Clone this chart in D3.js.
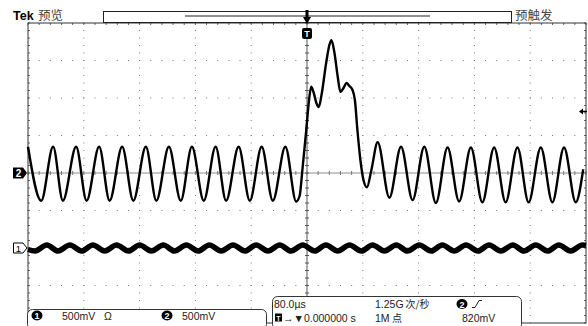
<!DOCTYPE html>
<html>
<head>
<meta charset="utf-8">
<script src="https://cdn.jsdelivr.net/npm/d3@7"></script>
<style>
  body { margin: 0; background: #fff; }
  svg { display: block; }
  text { font-family: "Liberation Sans", Arial, sans-serif; fill: #222; }
  .cjk { font-family: "Noto Sans CJK SC", sans-serif; }
</style>
</head>
<body>
<svg id="scope" width="588" height="326"></svg>
<script>
// time in µs relative to trigger, volts
const timeDiv = 80;      // µs per division
const voltsDiv = 0.5;    // V per division (both channels)

// channel 2: sine burst with a pulse at the trigger
const ch2Time = [-400, -381, -364, -350, -331, -316, -298, -283, -265, -249, -231, -216,
  -198, -181, -165, -148, -131, -116, -98, -82, -65, -49, -31, -15.5,
  -10.7, -6.4, -1.1, 2.9, 6.0, 9.3, 13.6, 16.9, 20.8, 27.5, 32.2, 35.1, 39.4, 44.1,
  47.9, 52.2, 56.5, 60.8, 65.1, 68.7, 72.3, 76.6, 80.9, 85.9, 92.3, 101.3,
  118.1, 134.8, 151.4, 168.2, 184.8, 201.5, 218.1, 235.0, 251.4, 268.3, 284.8,
  301.7, 317.7, 335.2, 351.8, 368.5, 385.3, 396];
const ch2Volt = [0.35, -0.37, 0.35, -0.37, 0.35, -0.37, 0.35, -0.37, 0.35, -0.37, 0.35, -0.37,
  0.35, -0.37, 0.35, -0.37, 0.35, -0.37, 0.35, -0.37, 0.35, -0.37, 0.35, -0.38,
  -0.31, 0.06, 0.57, 0.97, 1.15, 1.08, 0.93, 0.88, 1.04, 1.47, 1.71, 1.77, 1.60, 1.28,
  1.08, 1.13, 1.20, 1.16, 1.11, 0.97, 0.57, 0.17, -0.09, -0.19, 0.04, 0.41,
  -0.33, 0.35, -0.36, 0.35, -0.40, 0.34, -0.38, 0.34, -0.39, 0.34, -0.39,
  0.34, -0.39, 0.34, -0.39, 0.34, -0.39, 0.05];

// channel 1: small ripple
const ch1Time = [-400, -390, -373, -357, -340, -323, -307, -290, -273, -256, -240, -223,
  -206, -190, -173, -156, -140, -123, -106, -89, -73, -56, -39, -23, -6, 11, 27, 44,
  61, 78, 94, 111, 128, 144, 161, 178, 194, 211, 228, 245, 261, 278, 295, 311, 328,
  345, 361, 378, 395, 400];
const ch1Volt = [-0.02, -0.04, 0.04, -0.04, 0.04, -0.04, 0.04, -0.04, 0.04, -0.04, 0.04, -0.04,
  0.04, -0.04, 0.04, -0.04, 0.04, -0.04, 0.04, -0.04, 0.04, -0.04, 0.04, -0.04, 0.04, -0.04, 0.04, -0.04,
  0.04, -0.04, 0.04, -0.04, 0.04, -0.04, 0.04, -0.04, 0.04, -0.04, 0.04, -0.04, 0.04, -0.04, 0.04, -0.04, 0.04,
  -0.04, 0.04, -0.04, 0.04, 0.035];

const ch1Offset = -2;    // divisions
const ch2Offset = 0;
const trigLevel = 0.82;  // V on channel 2

const svg = d3.select("#scope");
const gLeft = 28, gRight = 586, gTop = 23, gBottom = 323;

const x = d3.scaleLinear().domain([-5 * timeDiv, 5 * timeDiv]).range([gLeft, gRight]);
const y = d3.scaleLinear().domain([-4, 4]).range([gBottom, gTop]);

// graticule
const grid = svg.append("g");
const xMinor = d3.range(-5, 5.01, 0.2);
const yMinor = d3.range(-4, 4.01, 0.2);
const majorX = d3.range(-4, 5).filter(d => d !== 0);
const majorY = d3.range(-3, 4).filter(d => d !== 0);

majorX.forEach(k => {
  grid.selectAll(null).data(yMinor).join("rect")
    .attr("x", x(k * timeDiv) - 0.5).attr("y", d => y(d) - 0.5)
    .attr("width", 1).attr("height", 1).attr("fill", "#7a7a7a");
});
majorY.forEach(k => {
  grid.selectAll(null).data(xMinor).join("rect")
    .attr("x", d => x(d * timeDiv) - 0.5).attr("y", y(k) - 0.5)
    .attr("width", 1).attr("height", 1).attr("fill", "#7a7a7a");
});

// center cross with ticks
grid.append("line").attr("x1", gLeft).attr("x2", gRight).attr("y1", y(0)).attr("y2", y(0))
  .attr("stroke", "#8c8c8c").attr("stroke-width", 1);
grid.append("line").attr("x1", x(0)).attr("x2", x(0)).attr("y1", gTop).attr("y2", gBottom)
  .attr("stroke", "#555").attr("stroke-width", 1);
grid.selectAll(null).data(xMinor).join("line")
  .attr("x1", d => x(d * timeDiv)).attr("x2", d => x(d * timeDiv))
  .attr("y1", y(0) - 2).attr("y2", y(0) + 2).attr("stroke", "#777");
grid.selectAll(null).data(yMinor).join("line")
  .attr("x1", x(0) - 2).attr("x2", x(0) + 2)
  .attr("y1", d => y(d)).attr("y2", d => y(d)).attr("stroke", "#555");

// border ticks
grid.selectAll(null).data(xMinor).join("line")
  .attr("x1", d => x(d * timeDiv)).attr("x2", d => x(d * timeDiv))
  .attr("y1", gTop).attr("y2", gTop + 2).attr("stroke", "#666");
grid.selectAll(null).data(yMinor).join("line")
  .attr("x1", gLeft).attr("x2", gLeft + 2)
  .attr("y1", d => y(d)).attr("y2", d => y(d)).attr("stroke", "#666");
grid.selectAll(null).data(yMinor).join("line")
  .attr("x1", gRight - 2).attr("x2", gRight)
  .attr("y1", d => y(d)).attr("y2", d => y(d)).attr("stroke", "#666");
grid.append("rect").attr("x", gLeft).attr("y", gTop)
  .attr("width", gRight - gLeft).attr("height", gBottom - gTop)
  .attr("fill", "none").attr("stroke", "#333").attr("stroke-width", 1);

// traces
const line = (offset) => d3.line()
  .x(d => x(d[0]))
  .y(d => y(d[1] / voltsDiv + offset))
  .curve(d3.curveMonotoneX);

svg.append("path")
  .datum(d3.zip(ch1Time, ch1Volt))
  .attr("d", line(ch1Offset))
  .attr("fill", "none").attr("stroke", "#000")
  .attr("stroke-width", 5.5).attr("stroke-linejoin", "round");

svg.append("path")
  .datum(d3.zip(ch2Time, ch2Volt))
  .attr("d", line(ch2Offset))
  .attr("fill", "none").attr("stroke", "#000")
  .attr("stroke-width", 2.4).attr("stroke-linejoin", "round");

// header
svg.append("text").attr("x", 13).attr("y", 20).attr("font-size", 12.5)
  .attr("font-weight", "bold").style("fill", "#000").text("Tek");
svg.append("text").attr("class", "cjk").attr("x", 38).attr("y", 20)
  .attr("font-size", 12.5).style("fill", "#444").text("预览");
svg.append("text").attr("class", "cjk").attr("x", 515).attr("y", 20)
  .attr("font-size", 12.5).style("fill", "#444").text("预触发");

svg.append("rect").attr("x", 103.5).attr("y", 11.5).attr("width", 408).attr("height", 11)
  .attr("fill", "none").attr("stroke", "#222");
svg.append("line").attr("x1", 185).attr("x2", 430).attr("y1", 16).attr("y2", 16)
  .attr("stroke", "#222");

// trigger position marker
const tx = x(0);
svg.append("rect").attr("x", tx - 1.5).attr("y", 10).attr("width", 3).attr("height", 8).attr("fill", "#000");
svg.append("path").attr("d", `M${tx - 4},17 L${tx + 4},17 L${tx},24 Z`).attr("fill", "#000");
svg.append("rect").attr("x", tx - 5).attr("y", 28).attr("width", 10).attr("height", 11)
  .attr("rx", 2).attr("fill", "#000");
svg.append("text").attr("x", tx).attr("y", 37).attr("text-anchor", "middle")
  .attr("font-size", 9).attr("font-weight", "bold").style("fill", "#fff").text("T");

// channel markers
const m2 = y(ch2Offset), m1 = y(ch1Offset);
svg.append("path").attr("d", `M13,${m2 - 5.5} L23,${m2 - 5.5} L27,${m2} L23,${m2 + 5.5} L13,${m2 + 5.5} Z`)
  .attr("fill", "#000");
svg.append("text").attr("x", 18.5).attr("y", m2 + 4).attr("text-anchor", "middle")
  .attr("font-size", 10).attr("font-weight", "bold").style("fill", "#fff").text("2");
svg.append("path").attr("d", `M13.5,${m1 - 5} L23,${m1 - 5} L27,${m1} L23,${m1 + 5} L13.5,${m1 + 5} Z`)
  .attr("fill", "#fff").attr("stroke", "#000");
svg.append("text").attr("x", 18.5).attr("y", m1 + 4).attr("text-anchor", "middle")
  .attr("font-size", 9.5).style("fill", "#000").text("1");

// trigger level marker
const ty = y(trigLevel / voltsDiv + ch2Offset);
svg.append("path").attr("d", `M579,${ty} L583,${ty - 3} L583,${ty + 3} Z`).attr("fill", "#000");
svg.append("line").attr("x1", 582).attr("x2", 587).attr("y1", ty).attr("y2", ty)
  .attr("stroke", "#000").attr("stroke-width", 1.5);

// status boxes
svg.append("rect").attr("x", 27.5).attr("y", 309.5).attr("width", 239).attr("height", 20)
  .attr("rx", 5).attr("fill", "#fff").attr("stroke", "#333");
svg.append("rect").attr("x", 272.5).attr("y", 296.5).attr("width", 249).attr("height", 33)
  .attr("rx", 5).attr("fill", "#fff").attr("stroke", "#333");

function badge(cx, cy, label) {
  svg.append("ellipse").attr("cx", cx).attr("cy", cy).attr("rx", 5.5).attr("ry", 5).attr("fill", "#000");
  svg.append("text").attr("x", cx).attr("y", cy + 3.5).attr("text-anchor", "middle")
    .attr("font-size", 9).attr("font-weight", "bold").style("fill", "#fff").text(label);
}
function label(xp, yp, str, cls) {
  const t = svg.append("text").attr("x", xp).attr("y", yp)
    .attr("font-size", cls ? 10 : 10.5).text(str);
  if (cls) t.attr("class", cls);
  return t.node().getComputedTextLength();
}

badge(37, 315.5, "1");
label(62, 319.5, "500mV");
label(104, 319.5, "Ω");
badge(167, 315.5, "2");
label(182, 319.5, "500mV");

const row1 = 307.5, row2 = 321.5;
label(274, row1, "80.0µs");
const w1 = label(375, row1, "1.25G");
label(375 + w1 + 2, row1, "次/秒", "cjk");
badge(462, 304, "2");
svg.append("path").attr("d", "M472,307.5 L475,307.5 L479,300.5 L482,300.5")
  .attr("fill", "none").attr("stroke", "#222").attr("stroke-width", 1);

svg.append("rect").attr("x", 275).attr("y", 313.5).attr("width", 7).attr("height", 8).attr("fill", "#000");
svg.append("text").attr("x", 278.5).attr("y", 320.5).attr("text-anchor", "middle")
  .attr("font-size", 7).attr("font-weight", "bold").style("fill", "#fff").text("T");
label(283, row2, "→▼0.000000 s");
const w2 = label(375, row2, "1M");
label(375 + w2 + 2.5, row2, "点", "cjk");
label(462, row2, "820mV");
</script>
</body>
</html>
